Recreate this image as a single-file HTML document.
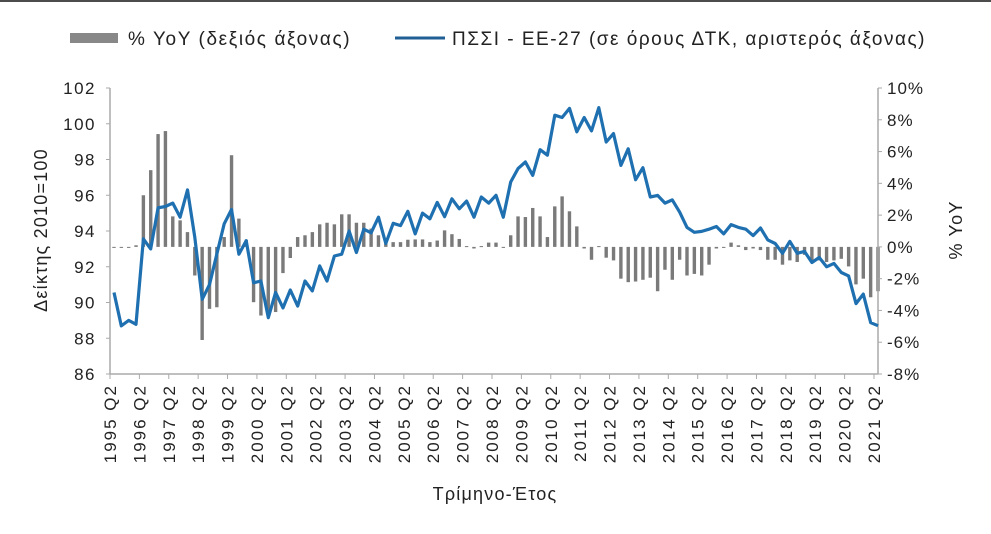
<!DOCTYPE html>
<html><head><meta charset="utf-8"><style>
body{margin:0;background:#fff;width:991px;height:529px;overflow:hidden;font-family:"Liberation Sans","DejaVu Sans",sans-serif;}
svg text{font-family:"Liberation Sans","DejaVu Sans",sans-serif;fill:#222;}
</style></head><body>
<svg id="chart" width="991" height="529" viewBox="0 0 991 529" xmlns="http://www.w3.org/2000/svg">
<line x1="0" y1="1" x2="991" y2="1" stroke="#111" stroke-width="1.5"/>
<g>
<g>
<rect x="70" y="33" width="48" height="10" fill="#888"/>
<text x="128" y="45" font-size="19" letter-spacing="1.6">% YoY (δεξιός άξονας)</text></g>
<g>
<line x1="395" y1="38" x2="445" y2="38" stroke="#1f5f94" stroke-width="3"/>
<text x="452" y="45" font-size="19" letter-spacing="1.5">ΠΣΣΙ - ΕΕ-27 (σε όρους ΔΤΚ, αριστερός άξονας)</text></g>
</g>
<g id="bars"></g>
<g id="axes"></g>
<path id="line" fill="none" stroke="#1f70b0" stroke-width="3.2" stroke-linejoin="round"/>
<text transform="translate(47,230) rotate(-90)" text-anchor="middle" font-size="18" letter-spacing="1.2">Δείκτης 2010=100</text>
<text transform="translate(962,230) rotate(-90)" text-anchor="middle" font-size="18" letter-spacing="1.2">% YoY</text>
<text x="495" y="500" text-anchor="middle" font-size="18" letter-spacing="1.2">Τρίμηνο-Έτος</text>
</svg>
<script>
const years = [];
for (let y = 1995; y <= 2021; y++) years.push(y + " Q2");
const indexValues = [90.56,88.69,89.0,88.78,93.56,93.0,95.3,95.37,95.56,94.77,96.3,93.65,90.18,91.0,92.7,94.4,95.2,92.7,93.46,91.1,91.2,89.15,90.56,89.7,90.7,89.8,91.2,90.65,92.05,91.2,92.6,92.7,94.0,92.8,94.1,93.9,94.77,93.3,94.43,94.3,95.1,93.84,95.0,94.68,95.6,94.8,95.8,95.24,95.67,94.77,95.9,95.56,96.0,94.77,96.74,97.49,97.86,97.11,98.55,98.24,100.48,100.35,100.86,99.55,100.35,99.6,100.9,98.98,99.45,97.67,98.6,96.87,97.54,95.9,95.99,95.56,95.74,95.05,94.2,93.93,93.98,94.1,94.25,93.84,94.36,94.2,94.1,93.74,94.17,93.5,93.3,92.75,93.42,92.75,92.86,92.24,92.52,92.0,92.19,91.68,91.49,89.94,90.47,88.87,88.7];
const yoyValues = [0,0,0,0.1,3.25,4.83,7.1,7.29,1.92,1.67,0.93,-1.8,-5.86,-3.9,-3.8,0.62,5.77,1.78,0.45,-3.48,-4.32,-4.2,-4.1,-1.65,-0.7,0.62,0.73,0.93,1.42,1.52,1.42,2.05,2.05,1.52,1.52,1.15,0.73,0.37,0.3,0.3,0.45,0.47,0.47,0.3,0.4,1.04,0.8,0.5,0.05,-0.1,0.05,0.27,0.27,-0.05,0.73,1.92,1.88,2.45,1.92,0.62,2.55,3.18,2.24,1.29,-0.1,-0.81,0.05,-0.68,-0.85,-2.0,-2.22,-2.18,-2.07,-1.94,-2.79,-1.44,-2.07,-0.81,-1.8,-1.7,-1.8,-1.12,-0.1,-0.05,0.27,0.1,-0.2,-0.1,-0.2,-0.81,-0.81,-1.12,-0.85,-0.95,-0.5,-0.95,-0.85,-0.95,-0.85,-0.75,-1.23,-2.36,-2.0,-3.17,-2.79];
const leftTicks = [86,88,90,92,94,96,98,100,102];
const rightTicks = [-8,-6,-4,-2,0,2,4,6,8,10];

const NS = "http://www.w3.org/2000/svg";
const X0 = 110, X1 = 878, YT = 88, YB = 374;
const n = indexValues.length;
const step = (X1 - X0 - 4) / (n - 1);
function xAt(i){ return X0 + 4 + i * step; }
function yLeft(v){ return YB - (v - 86) / 16 * (YB - YT); }
function yRight(p){ return YB - (p + 8) / 18 * (YB - YT); }
function mk(tag, attrs, parent){ const e = document.createElementNS(NS, tag); for (const k in attrs) e.setAttribute(k, attrs[k]); parent.appendChild(e); return e; }

const bars = document.getElementById('bars');
yoyValues.forEach((p, i) => {
  const y0 = yRight(0), y1 = yRight(p);
  const r = mk('rect', {x: xAt(i) - 1.7, y: Math.min(y0, y1), width: 3.4, height: Math.max(Math.abs(y1 - y0), 1), fill: '#7a7a7a'}, bars);
  
  
});

const ax = document.getElementById('axes');
const la = mk('line', {x1: X0, y1: YT, x2: X0, y2: YB, stroke: '#aaa', 'stroke-width': 1.5}, ax);


const ra = mk('line', {x1: X1, y1: YT, x2: X1, y2: YB, stroke: '#aaa', 'stroke-width': 1.5}, ax);


const xa = mk('line', {x1: X0, y1: YB, x2: X1, y2: YB, stroke: '#aaa', 'stroke-width': 1.5}, ax);



leftTicks.forEach(v => {
  const y = yLeft(v);
  mk('line', {x1: X0 - 4, y1: y, x2: X0, y2: y, stroke: '#aaa'}, ax);
  const t = mk('text', {x: X0 - 14, y: y + 6, 'text-anchor': 'end', 'font-size': 17, 'letter-spacing': 1.5}, ax);
  t.textContent = v;
  
  
});
rightTicks.forEach(p => {
  const y = yRight(p);
  mk('line', {x1: X1, y1: y, x2: X1 + 4, y2: y, stroke: '#aaa'}, ax);
  const t = mk('text', {x: X1 + 9, y: y + 6, 'text-anchor': 'start', 'font-size': 17, 'letter-spacing': 1}, ax);
  t.textContent = p + '%';
  
  
});
years.forEach((lab, k) => {
  const x = X0 + k * 4 * step;
  mk('line', {x1: x, y1: YB, x2: x, y2: YB + 5, stroke: '#aaa'}, ax);
  const t = mk('text', {transform: `translate(${x + 6},${YB + 10}) rotate(-90)`, 'text-anchor': 'end', 'font-size': 17, 'letter-spacing': 2}, ax);
  t.textContent = lab;
  
  
});

document.getElementById('line').setAttribute('d', indexValues.map((v, i) => (i ? 'L' : 'M') + xAt(i).toFixed(1) + ',' + yLeft(v).toFixed(1)).join(''));
</script>
</body></html>
